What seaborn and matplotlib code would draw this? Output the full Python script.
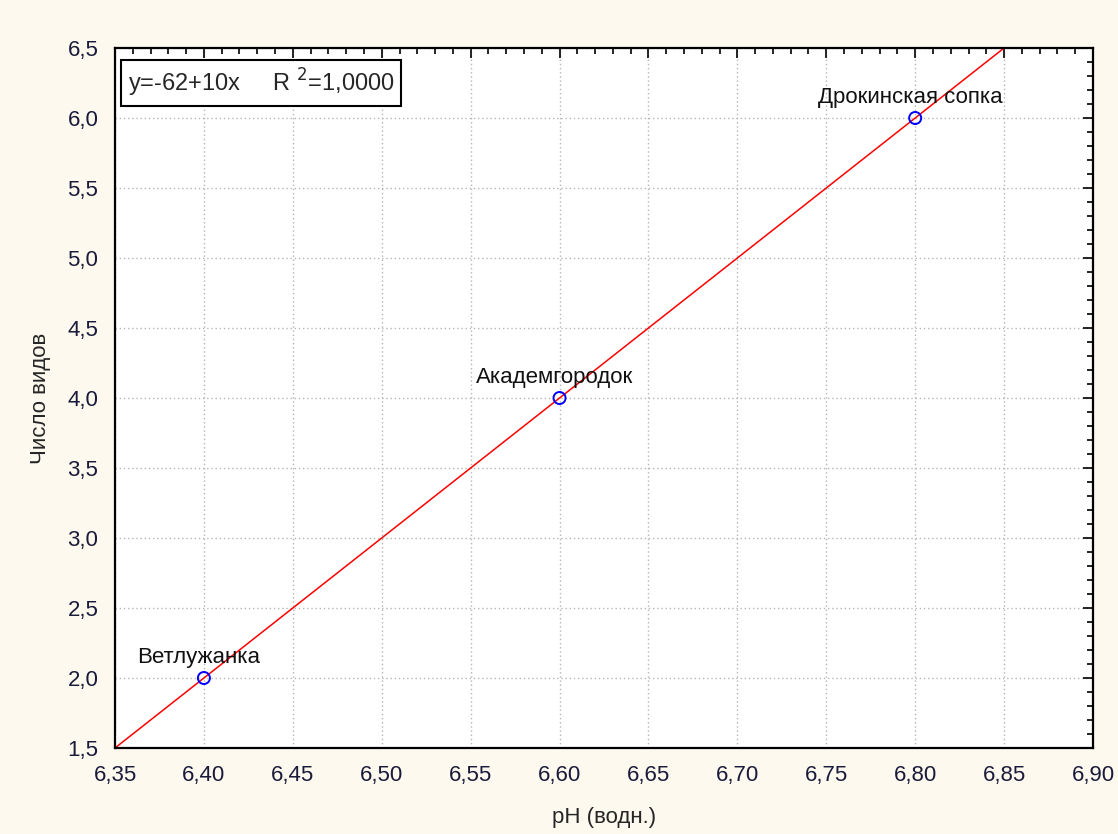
import numpy as np
import pandas as pd
import matplotlib
matplotlib.use("Agg")
import matplotlib.pyplot as plt
from matplotlib.ticker import MultipleLocator, AutoMinorLocator, FuncFormatter
import seaborn as sns

# Data
sites = ["Ветлужанка", "Академгородок", "Дрокинская сопка"]
ph = [6.40, 6.60, 6.80]
species = [2.0, 4.0, 6.0]
intercept = -62
slope = 10

df = pd.DataFrame({"ph": ph, "species": species, "site": sites})

sns.set_style("white")
plt.rcParams["font.family"] = ["Liberation Sans", "DejaVu Sans"]

fig = plt.figure(figsize=(11.18, 8.34), dpi=100, facecolor="#fdf9ef")
ax = fig.add_axes([115 / 1118, 1 - 748 / 834, (1093 - 115) / 1118, (748 - 48) / 834])
ax.set_facecolor("white")

# regression line over the fitted range
xl = np.array([6.35, 6.85])
ax.plot(xl, intercept + slope * xl, color="red", lw=1.1, zorder=2)

sns.scatterplot(data=df, x="ph", y="species", ax=ax, marker="o", s=75,
                facecolors="none", edgecolor="blue", linewidth=1.4, zorder=3)

for _, r in df.iterrows():
    ax.annotate(r["site"], (r["ph"], r["species"]), xytext=(-5, 21),
                textcoords="offset pixels", ha="center", va="center",
                fontsize=16, color="#111111")

ax.set_xlim(6.35, 6.90)
ax.set_ylim(1.5, 6.5)
ax.xaxis.set_major_locator(MultipleLocator(0.05))
ax.yaxis.set_major_locator(MultipleLocator(0.5))
ax.xaxis.set_minor_locator(AutoMinorLocator(5))
ax.yaxis.set_minor_locator(AutoMinorLocator(5))
ax.xaxis.set_major_formatter(FuncFormatter(lambda v, p: f"{v:.2f}".replace(".", ",")))
ax.yaxis.set_major_formatter(FuncFormatter(lambda v, p: f"{v:.1f}".replace(".", ",")))
ax.tick_params(which="both", direction="in", top=True, right=True,
               color="black", labelsize=16, labelcolor="#1a1a3a")
ax.tick_params(which="major", length=7, width=1.2, pad=12)
ax.tick_params(which="minor", length=4, width=1.2)
ax.grid(True, which="major", color="#b5b5b5", linestyle=(0, (1, 2)), lw=1)
for s in ax.spines.values():
    s.set_color("black")
    s.set_linewidth(1.6)

ax.set_xlabel("pH (водн.)", fontsize=16, labelpad=15)
ax.set_ylabel("Число видов", fontsize=16, labelpad=12)

ax.text(0.013, 0.95, "y=-62+10x     R $^2$=1,0000", transform=ax.transAxes,
        fontsize=17, ha="left", va="center",
        bbox=dict(boxstyle="square,pad=0.3", fc="white", ec="black", lw=1.5))

fig.savefig("out.png", dpi=100, facecolor=fig.get_facecolor())
